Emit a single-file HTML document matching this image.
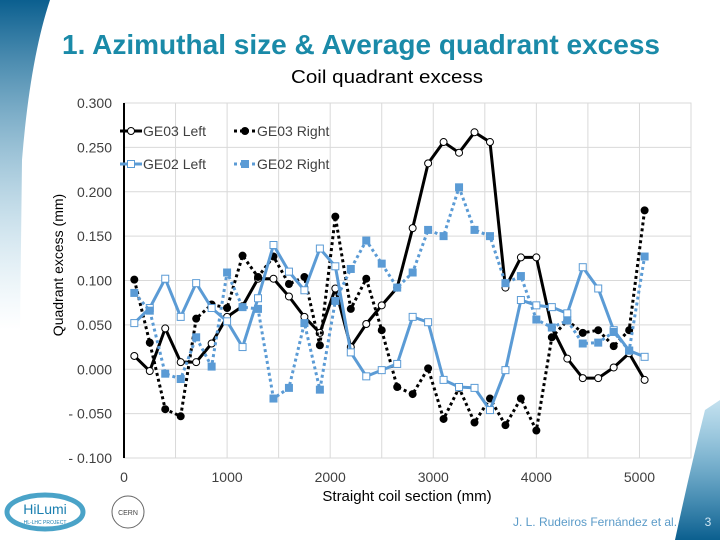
<!DOCTYPE html>
<html><head><meta charset="utf-8"><style>
body{margin:0;width:720px;height:540px;overflow:hidden;background:#fff;font-family:"Liberation Sans",sans-serif}
</style></head><body>
<svg width="720" height="540" viewBox="0 0 720 540">
<defs>
<linearGradient id="gl" x1="0" y1="0" x2="0" y2="1"><stop offset="0" stop-color="#0b5f8f"/><stop offset="1" stop-color="#8fc7e0" stop-opacity="0"/></linearGradient>
<linearGradient id="gr" x1="0" y1="1" x2="0" y2="0"><stop offset="0" stop-color="#0b5f8f"/><stop offset="1" stop-color="#3a9ac8" stop-opacity="0.3"/></linearGradient>
</defs>
<path d="M0 0 L50 0 Q30 60 22 160 L20 330 L0 330 Z" fill="url(#gl)"/>
<path d="M720 400 L720 540 L675 540 Q690 470 705 410 Z" fill="url(#gr)"/>
<text x="62" y="54" textLength="598" lengthAdjust="spacingAndGlyphs" font-size="28" font-weight="bold" fill="#1a8aa8">1. Azimuthal size &amp; Average quadrant excess</text>
<text x="291" y="83" textLength="192" lengthAdjust="spacingAndGlyphs" font-size="18" fill="#000">Coil quadrant excess</text>
<g id="chart"></g>
<text x="595" y="526" text-anchor="middle" font-size="12" fill="#5b9bc8">J. L. Rudeiros Fernández et al.</text>
<text x="708" y="526" text-anchor="middle" font-size="12" fill="#cfe6f3">3</text>
<g>
<ellipse cx="45" cy="512" rx="38" ry="17" fill="none" stroke="#4aa3c8" stroke-width="5"/>
<text x="45" y="514" text-anchor="middle" font-size="14" fill="#1a7fb0">HiLumi</text>
<text x="45" y="524" text-anchor="middle" font-size="5" fill="#1a7fb0">HL-LHC PROJECT</text>
</g>
<g>
<circle cx="128" cy="512" r="16" fill="none" stroke="#666" stroke-width="1"/>
<text x="128" y="515" text-anchor="middle" font-size="7" fill="#444">CERN</text>
</g>
</svg>
<script>
const xMm=[100,250,400,550,700,850,1000,1150,1300,1450,1600,1750,1900,2050,2200,2350,2500,2650,2800,2950,3100,3250,3400,3550,3700,3850,4000,4150,4300,4450,4600,4750,4900,5050];
const ge03Left=[.015,-.002,.046,.008,.008,.029,.059,.071,.102,.102,.082,.059,.041,.091,.025,.051,.072,.092,.159,.232,.256,.244,.267,.256,.092,.126,.126,.047,.012,-.010,-.010,.002,.018,-.012];
const ge03Right=[.101,.030,-.045,-.053,.057,.073,.069,.128,.104,.127,.096,.104,.027,.172,.068,.102,.044,-.020,-.028,.001,-.056,-.021,-.060,-.033,-.063,-.033,-.069,.036,.055,.041,.044,.026,.044,.179];
const ge02Left=[.052,.069,.102,.059,.097,.069,.054,.025,.080,.140,.110,.089,.136,.116,.019,-.008,-.001,.006,.059,.053,-.012,-.020,-.021,-.046,-.001,.078,.072,.070,.063,.115,.091,.044,.021,.014];
const ge02Right=[.086,.066,-.005,-.011,.036,.003,.109,.070,.068,-.033,-.021,.052,-.023,.077,.113,.145,.119,.092,.109,.157,.150,.205,.157,.150,.097,.105,.056,.047,.055,.029,.030,.042,.021,.127];
const yTicks=[0.3,0.25,0.2,0.15,0.1,0.05,0,-0.05,-0.1];
const xTicks=[0,1000,2000,3000,4000,5000];
const xGrid=[500,1000,1500,2000,2500,3000,3500,4000,4500,5000,5500];

const L=124,R=691,T=103,B=458;
const X=v=>L+(v/5500)*(R-L);
const Y=v=>T+(0.3-v)/0.4*(B-T);
const NS='http://www.w3.org/2000/svg';
const g=document.getElementById('chart');
function mk(t,a,p){const e=document.createElementNS(NS,t);for(const k in a)e.setAttribute(k,a[k]);(p||g).appendChild(e);return e;}

const frame=mk('rect',{x:L,y:T,width:R-L,height:B-T,fill:'none',stroke:'#d9d9d9'});


yTicks.forEach(v=>{
 const ln=mk('line',{x1:L,x2:R,y1:Y(v),y2:Y(v),stroke:'#d9d9d9'});
 
 
 const t=mk('text',{x:112,y:Y(v)+5,'text-anchor':'end','font-size':14,fill:'#404040'});
 t.textContent=v.toFixed(3).replace('-','- ');
 
 
});
xGrid.forEach(v=>{
 const ln=mk('line',{x1:X(v),x2:X(v),y1:T,y2:B,stroke:'#d9d9d9'});
 
 
});
xTicks.forEach(v=>{
 const t=mk('text',{x:X(v),y:482,'text-anchor':'middle','font-size':14,fill:'#404040'});
 t.textContent=v;
 
 
});
const yax=mk('line',{x1:L,x2:L,y1:T,y2:B,stroke:'#000','stroke-width':2});


const xt=mk('text',{x:407,y:501,'text-anchor':'middle','font-size':15,fill:'#000'});
xt.textContent='Straight coil section (mm)';


const yt=mk('text',{x:0,y:0,'text-anchor':'middle','font-size':14,fill:'#000',transform:'translate(63,265) rotate(-90)'});
yt.textContent='Quadrant excess (mm)';



const series=[
 {name:'GE03 Left',data:ge03Left,color:'#000',dash:null,marker:'circle',fill:'#fff'},
 {name:'GE03 Right',data:ge03Right,color:'#000',dash:'3,3',marker:'circle',fill:'#000'},
 {name:'GE02 Left',data:ge02Left,color:'#5b9bd5',dash:null,marker:'square',fill:'#fff'},
 {name:'GE02 Right',data:ge02Right,color:'#5b9bd5',dash:'3,3',marker:'square',fill:'#5b9bd5'}
];
function marker(s,x,y,p){
 if(s.marker==='circle') return mk('circle',{cx:x,cy:y,r:3.5,fill:s.fill,stroke:s.color,'stroke-width':1},p);
 return mk('rect',{x:x-3.5,y:y-3.5,width:7,height:7,fill:s.fill,stroke:s.color,'stroke-width':1},p);
}
series.forEach((s,si)=>{
 const sg=mk('g',{});
 
 
 const pts=s.data.map((v,i)=>X(xMm[i])+','+Y(v)).join(' ');
 const pl=mk('polyline',{points:pts,fill:'none',stroke:s.color,'stroke-width':3,'stroke-linejoin':'round'},sg);
 if(s.dash)pl.setAttribute('stroke-dasharray',s.dash);
 
 
 s.data.forEach((v,i)=>{
  const m=marker(s,X(xMm[i]),Y(v),sg);
  
  
 });
 const lx=si%2===0?120:234, ly=si<2?131:164;
 const lg=mk('g',{});
 
 
 const ll=mk('line',{x1:lx,x2:lx+22,y1:ly,y2:ly,stroke:s.color,'stroke-width':3},lg);
 if(s.dash)ll.setAttribute('stroke-dasharray',s.dash);
 marker(s,lx+11,ly,lg);
 const lt=mk('text',{x:lx+23,y:ly+5,'font-size':14,fill:'#404040'},lg);
 lt.textContent=s.name;
});
</script>
</body></html>
